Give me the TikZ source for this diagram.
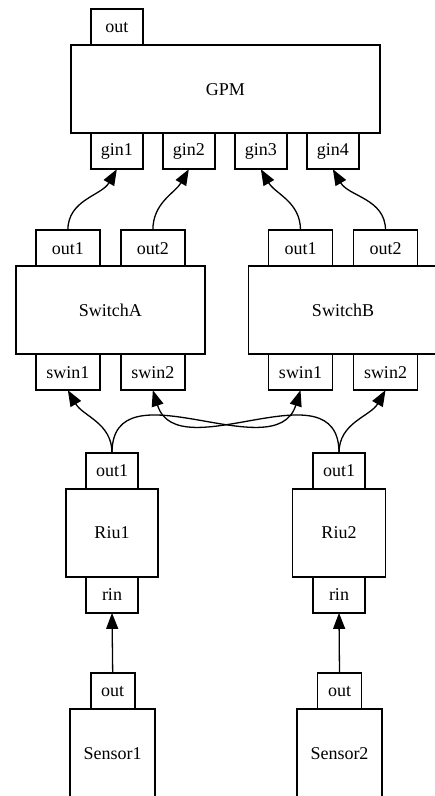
\documentclass[tikz,border=0pt]{standalone}
\usepackage{fontspec}
\setmainfont{Liberation Serif}
\usetikzlibrary{arrows.meta,positioning}
\tikzset{
    every picture/.style={line join=miter},
    block/.style={draw,line width=1.7pt,minimum height=88pt,inner sep=0pt,
      outer sep=0pt,font=\fontsize{18}{20}\selectfont},
    port/.style={draw,line width=1.7pt,minimum width=52pt,minimum height=36pt,
      inner sep=0pt,outer sep=0pt,font=\fontsize{18}{20}\selectfont},
    wideport/.style={port,minimum width=64pt},
    link/.style={-{Triangle[length=16pt,width=12pt]},line width=1.3pt}
}

\begin{document}
\begin{tikzpicture}[x=1pt,y=1pt]
  \useasboundingbox (0,0) rectangle (435,796);
  \node[block,minimum width=309pt] (gpm) at (225.35,706.8) {GPM};
  \node[port,above right=0pt and 20pt of gpm.north west] (gpmout) {out};
  \node[port,below right=0pt and 20pt of gpm.south west] (gin1) {gin1};
  \node[port,right=20pt of gin1] (gin2) {gin2};
  \node[port,right=20pt of gin2] (gin3) {gin3};
  \node[port,right=20pt of gin3] (gin4) {gin4};

  \node[block,minimum width=189pt] (swa) at (110.35,485.8) {SwitchA};
  \node[wideport,above right=0pt and 20pt of swa.north west] (swaout1) {out1};
  \node[wideport,right=21pt of swaout1] (swaout2) {out2};
  \node[wideport,below right=0pt and 20pt of swa.south west] (swain1) {swin1};
  \node[wideport,right=21pt of swain1] (swain2) {swin2};

  \node[block,minimum width=189pt] (swb) at (343,485.8) {SwitchB};
  \node[wideport,above right=0pt and 20pt of swb.north west] (swbout1) {out1};
  \node[wideport,right=21pt of swbout1] (swbout2) {out2};
  \node[wideport,below right=0pt and 20pt of swb.south west] (swbin1) {swin1};
  \node[wideport,right=21pt of swbin1] (swbin2) {swin2};

  \node[block,minimum width=92pt] (riu1) at (112,263.1) {Riu1};
  \node[port,above right=0pt and 20pt of riu1.north west] (riu1out) {out1};
  \node[port,below right=0pt and 20pt of riu1.south west] (riu1in) {rin};

  \node[block,minimum width=93pt] (riu2) at (339,263.1) {Riu2};
  \node[port,above right=0pt and 20.5pt of riu2.north west] (riu2out) {out1};
  \node[port,below right=0pt and 20.5pt of riu2.south west] (riu2in) {rin};

  \node[block,minimum width=85pt] (sen1) at (112.7,42.7) {Sensor1};
  \node[port,minimum width=44pt,above right=0pt and 20.5pt of sen1.north west] (sen1out) {out};

  \node[block,minimum width=85pt] (sen2) at (339.5,42.7) {Sensor2};
  \node[port,minimum width=44pt,above right=0pt and 20.5pt of sen2.north west] (sen2out) {out};

  \draw[link] (swaout1.north) to[out=90,in=-120] (gin1.south);
  \draw[link] (swaout2.north) to[out=90,in=-120] (gin2.south);
  \draw[link] (swbout1.north) to[out=90,in=-60] (gin3.south);
  \draw[link] (swbout2.north) to[out=90,in=-60] (gin4.south);

  \draw[link] (riu1out.north) to[out=90,in=-60] (swain1.south);
  \draw[link] (riu1out.north) .. controls +(0,90) and +(-25,-80) .. (swbin1.south);
  \draw[link] (riu2out.north) .. controls +(0,90) and +(25,-80) .. (swain2.south);
  \draw[link] (riu2out.north) to[out=90,in=-120] (swbin2.south);

  \draw[link] (sen1out.north) -- (riu1in.south);
  \draw[link] (sen2out.north) -- (riu2in.south);
\end{tikzpicture}
\end{document}
